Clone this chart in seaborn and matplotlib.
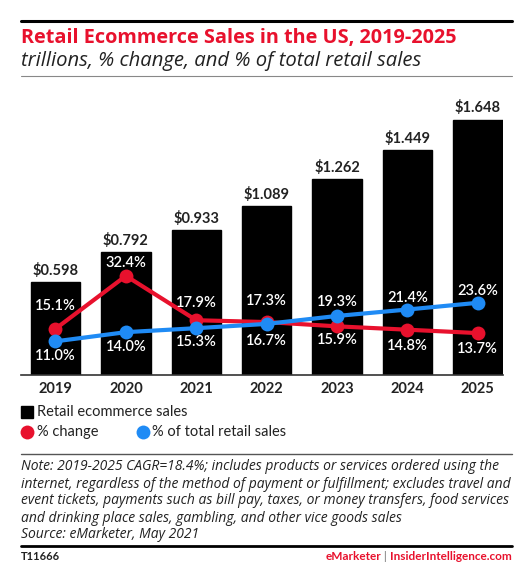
import numpy as np
import pandas as pd
import matplotlib
matplotlib.use("Agg")
import matplotlib.pyplot as plt
import seaborn as sns
from matplotlib.lines import Line2D
from matplotlib.patches import Rectangle

years = ["2019", "2020", "2021", "2022", "2023", "2024", "2025"]
sales = [0.598, 0.792, 0.933, 1.089, 1.262, 1.449, 1.648]
pct_change = [15.1, 32.4, 17.9, 17.3, 15.9, 14.8, 13.7]
pct_total = [11.0, 14.0, 15.3, 16.7, 19.3, 21.4, 23.6]

title = "Retail Ecommerce Sales in the US, 2019-2025"
subtitle = "trillions, % change, and % of total retail sales"
note_lines = [
    "Note: 2019-2025 CAGR=18.4%; includes products or services ordered using the",
    "internet, regardless of the method of payment or fulfillment; excludes travel and",
    "event tickets, payments such as bill pay, taxes, or money transfers, food services",
    "and drinking place sales, gambling, and other vice goods sales",
    "Source: eMarketer, May 2021",
]

# label offsets in pixels (layout, not data)
red_off = [-23, -13, -17, -21, 14, 16, 16]
blue_off = [15, 15, 14, 17, -14, -12, -12]

RED = "#e8112d"
BLUE = "#1f8bf5"
W, H = 525, 575

sns.set_theme(style="white")
plt.rcParams["font.family"] = ["Lato", "DejaVu Sans"]

fig = plt.figure(figsize=(W / 100, H / 100), dpi=100)

def fx(x):
    return x / W

def fy(y):
    return 1 - y / H

ax_left, ax_right, ax_top, ax_bot = 21, 503, 100, 375
ax = fig.add_axes([fx(ax_left), fy(ax_bot), (ax_right - ax_left) / W, (ax_bot - ax_top) / H])

df = pd.DataFrame({"year": years, "sales": sales, "chg": pct_change, "tot": pct_total})
sns.barplot(data=df, x="year", y="sales", color="black", width=0.70, ax=ax,
            saturation=1, edgecolor="black")
bar_h = 155.0
ax.set_ylim(0, (ax_bot - ax_top) / bar_h)
ax.set_xlim(-0.49, 6.357)
ax.bar_label(ax.containers[0], labels=[f"${v:.3f}" for v in sales], padding=3,
             fontsize=10.5, fontweight="bold", color="#222222")

ax2 = ax.twinx()
ax2.set_position(ax.get_position())
xs = np.arange(len(years))
sns.lineplot(x=xs, y=pct_change, ax=ax2, color=RED, lw=3, marker="o", markersize=10,
             markeredgewidth=0)
sns.lineplot(x=xs, y=pct_total, ax=ax2, color=BLUE, lw=3, marker="o", markersize=10,
             markeredgewidth=0)
ax2.set_ylim(0, (ax_bot - ax_top) / 3.06)
ax2.set_xlim(-0.49, 6.357)

for i in range(len(years)):
    ax2.annotate(f"{pct_change[i]:.1f}%", (xs[i], pct_change[i]), xytext=(0, -red_off[i] * 0.72),
                 textcoords="offset points", ha="center", va="center", color="white",
                 fontsize=10.5, fontweight="semibold")
    ax2.annotate(f"{pct_total[i]:.1f}%", (xs[i], pct_total[i]), xytext=(0, -blue_off[i] * 0.72),
                 textcoords="offset points", ha="center", va="center", color="white",
                 fontsize=10.5, fontweight="semibold")

for a in (ax, ax2):
    for s in ["top", "right", "left"]:
        a.spines[s].set_visible(False)
    a.set_yticks([])
    a.set_ylabel("")
    a.set_xlabel("")
ax.spines["bottom"].set_color("#333333")
ax.spines["bottom"].set_linewidth(1.2)
ax2.spines["bottom"].set_visible(False)
ax.set_xticks(xs)
ax.set_xticklabels(years, fontsize=10.5, fontweight="bold", color="#222222")
ax.tick_params(axis="x", length=0, pad=5)
ax2.tick_params(axis="x", length=0, labelbottom=False)

OPEN = ["Open Sans", "DejaVu Sans"]

# header
fig.add_artist(Line2D([fx(21), fx(512)], [fy(21), fy(21)], color="black", lw=2.2,
                      transform=fig.transFigure))
fig.text(fx(21), fy(38), title, color=RED, fontsize=14.3, fontweight="bold", va="center",
         ha="left", family=OPEN)
fig.text(fx(21), fy(61), subtitle, color="#222222", fontsize=14.6, style="italic", va="center",
         ha="left", family=OPEN)
fig.add_artist(Line2D([fx(21), fx(512)], [fy(76), fy(76)], color="#888888", lw=0.8,
                      transform=fig.transFigure))

# legend
fig.add_artist(Rectangle((fx(21), fy(418)), 12 / W, 12 / H, color="black", transform=fig.transFigure))
fig.text(fx(37), fy(412), "Retail ecommerce sales", fontsize=10.5, va="center", ha="left", color="#222222")
fig.add_artist(Line2D([fx(27)], [fy(432)], marker="o", markersize=10, color=RED, markeredgewidth=0,
                      transform=fig.transFigure))
fig.text(fx(37), fy(432), "% change", fontsize=10.5, va="center", ha="left", color="#222222")
fig.add_artist(Line2D([fx(143)], [fy(432)], marker="o", markersize=10, color=BLUE, markeredgewidth=0,
                      transform=fig.transFigure))
fig.text(fx(152), fy(432), "% of total retail sales", fontsize=10.5, va="center", ha="left", color="#222222")

# footer
fig.add_artist(Line2D([fx(21), fx(512)], [fy(454), fy(454)], color="#555555", lw=1.0,
                      transform=fig.transFigure))
for k, line in enumerate(note_lines):
    fig.text(fx(21), fy(467 + 17 * k), line, fontsize=10.0, style="italic", va="center",
             ha="left", color="#222222", family=OPEN)
fig.add_artist(Line2D([fx(21), fx(512)], [fy(546), fy(546)], color="black", lw=2.0,
                      transform=fig.transFigure))
fig.text(fx(21), fy(557), "T11666", fontsize=8, fontweight="bold", va="center", ha="left", color="#222222")

renderer = fig.canvas.get_renderer()
x_right = fx(512)
for txt, col in [("InsiderIntelligence.com", RED), (" | ", "#999999"), ("eMarketer", RED)]:
    t = fig.text(x_right, fy(557), txt, fontsize=8.5, fontweight="bold", va="center",
                 ha="right", color=col)
    bb = t.get_window_extent(renderer=renderer)
    x_right -= bb.width / W

fig.savefig("out.png", dpi=100)
